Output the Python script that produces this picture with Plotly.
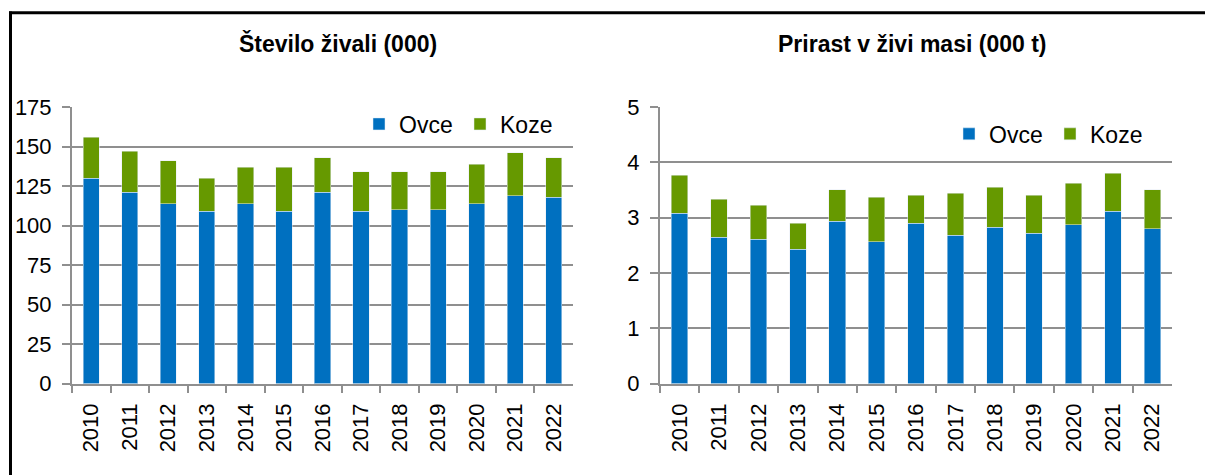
import plotly.graph_objects as go

# Leta (kategorije)
years = [str(y) for y in range(2010, 2023)]

# Število živali (000)
ovce_stevilo = [130, 121, 114, 109, 114, 109, 121, 109, 110, 110, 114, 119, 118]
koze_stevilo = [26, 26, 27, 21, 23, 28, 22, 25, 24, 24, 25, 27, 25]

# Prirast v živi masi (000 t)
ovce_prirast = [3.08, 2.65, 2.61, 2.43, 2.94, 2.57, 2.90, 2.68, 2.83, 2.72, 2.87, 3.12, 2.80]
koze_prirast = [0.69, 0.68, 0.62, 0.47, 0.57, 0.80, 0.51, 0.76, 0.72, 0.69, 0.75, 0.68, 0.71]

left_ticks = [0, 25, 50, 75, 100, 125, 150, 175]
right_ticks = [0, 1, 2, 3, 4, 5]

W, H = 1205, 475
BLUE = "#0070C0"
GREEN = "#669900"
GRID = "#8f8f8f"
FONT = "Liberation Sans, Arial, sans-serif"

# vertical placement helpers (page offset / scale of the rendered figure)
OFF_Y, SC_Y = 10.0, 0.956


def px(x):
    return x / W


def py(y):
    return 1 - ((y - OFF_Y) / SC_Y) / H


fig = go.Figure()

fig.add_trace(go.Bar(x=years, y=ovce_stevilo, name="Ovce", marker_color=BLUE,
                     xaxis="x", yaxis="y", legend="legend"))
fig.add_trace(go.Bar(x=years, y=koze_stevilo, name="Koze", marker_color=GREEN,
                     xaxis="x", yaxis="y", legend="legend"))
fig.add_trace(go.Bar(x=years, y=ovce_prirast, name="Ovce", marker_color=BLUE,
                     xaxis="x2", yaxis="y2", legend="legend2"))
fig.add_trace(go.Bar(x=years, y=koze_prirast, name="Koze", marker_color=GREEN,
                     xaxis="x2", yaxis="y2", legend="legend2"))

xcommon = dict(
    type="category", showgrid=False, showline=True, linecolor=GRID, linewidth=2,
    ticks="outside", tickson="boundaries", ticklen=7, tickcolor=GRID, tickwidth=2,
    tickangle=-90, tickfont=dict(family=FONT, size=22, color="#000"),
    ticklabelstandoff=9, fixedrange=True,
)
ycommon = dict(
    showgrid=True, gridcolor=GRID, gridwidth=2, showline=True, linecolor=GRID,
    linewidth=2, ticks="outside", ticklen=8, tickcolor=GRID, tickwidth=2,
    tickfont=dict(family=FONT, size=22, color="#000"), zeroline=False,
    ticklabelstandoff=6, fixedrange=True,
)

y_dom = [py(385), py(106)]
legend_font = dict(family=FONT, size=23, color="#000")

fig.update_layout(
    width=W, height=H,
    margin=dict(l=0, r=0, t=0, b=0),
    paper_bgcolor="white", plot_bgcolor="white",
    barmode="stack", bargap=0.58,
    font=dict(family=FONT, color="#000"),
    xaxis=dict(domain=[px(72), px(573)], anchor="y", **xcommon),
    yaxis=dict(domain=y_dom, anchor="x", range=[0, 175], tickvals=left_ticks, **ycommon),
    xaxis2=dict(domain=[px(660), px(1172)], anchor="y2", **xcommon),
    yaxis2=dict(domain=y_dom, anchor="x2", range=[0, 5], tickvals=right_ticks, **ycommon),
    legend=dict(orientation="h", x=px(561), xanchor="right", y=py(123), yanchor="middle",
                font=legend_font, bgcolor="rgba(0,0,0,0)", entrywidth=56,
                itemclick=False, itemdoubleclick=False, traceorder="normal"),
    legend2=dict(orientation="h", x=px(1151), xanchor="right", y=py(133), yanchor="middle",
                 font=legend_font, bgcolor="rgba(0,0,0,0)", entrywidth=56,
                 itemclick=False, itemdoubleclick=False, traceorder="normal"),
    annotations=[
        dict(text="<b>Število živali (000)</b>", x=px(338), y=py(42), xref="paper", yref="paper",
             xanchor="center", yanchor="middle", showarrow=False,
             font=dict(family=FONT, size=23, color="#000")),
        dict(text="<b>Prirast v živi masi (000 t)</b>", x=px(912), y=py(42), xref="paper",
             yref="paper", xanchor="center", yanchor="middle", showarrow=False,
             font=dict(family=FONT, size=23, color="#000")),
    ],
    shapes=[
        # black frame along the top and left edges
        dict(type="line", xref="paper", yref="paper", x0=px(9), x1=px(1215), y0=py(10.8), y1=py(10.8),
             line=dict(color="black", width=3)),
        dict(type="line", xref="paper", yref="paper", x0=px(10.5), x1=px(10.5), y0=py(9.5), y1=py(520),
             line=dict(color="black", width=3)),
    ],
)

fig.write_html("out.html")
